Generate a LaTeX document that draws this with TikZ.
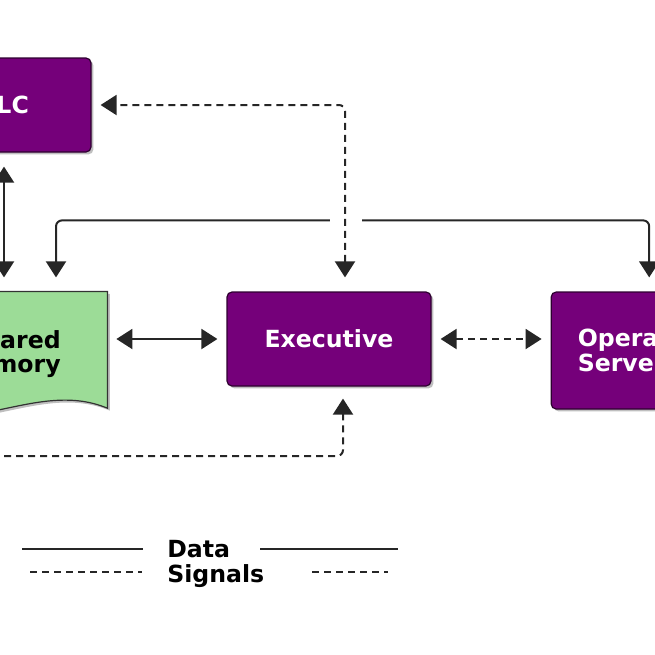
\documentclass[tikz,border=0pt]{standalone}
\usepackage{fontspec}
\setmainfont{DejaVu Sans}
\usepackage{tikz}
\usetikzlibrary{arrows.meta, positioning, shadows, backgrounds}
\usepackage{xcolor}
\definecolor{plum}{HTML}{75007A}
\definecolor{plumdark}{HTML}{2E0030}
\definecolor{mint}{HTML}{9CDC97}

\begin{document}
\begin{tikzpicture}[
      x=0.5pt, y=-0.5pt,
      node distance=59.5pt,
      >={Triangle[length=8pt, width=10pt]},
      lbl/.style={font=\fontsize{11.8}{12.2}\selectfont\bfseries},
      boxshadow/.style={drop shadow={shadow xshift=1.2pt, shadow yshift=-1.2pt,
                        opacity=0.25, fill=black}},
      pbox/.style={lbl, draw=plumdark, fill=plum, text=white, rounded corners=2.5pt,
                   line width=0.6pt, minimum height=47pt, boxshadow},
      mbox/.style={lbl, text=black, minimum width=100pt, minimum height=54pt, align=right},
      datalink/.style={line width=1pt, color=black!85, rounded corners=3pt,
                       shorten <=4.5pt, shorten >=4.5pt},
      siglink/.style={datalink, dash pattern=on 3.5pt off 2.5pt}
    ]
    \useasboundingbox (0,0) rectangle (655,655);
    \clip (0,0) rectangle (655,655);

    \node[pbox, minimum width=102pt] (exe) at (329,339) {Executive};
    \node[mbox, left=of exe.north west, anchor=north east, yshift=-4pt] (mem) {Shared\\Memory};
    \node[pbox, minimum width=86.5pt, minimum height=58.5pt, align=left,
          right=of exe.north east, anchor=north west] (ops) {Operator\\Server};
    \node[pbox, minimum width=87pt] (plc) at (4,105) {PLC};
    \coordinate (feed) at (-20,456);

    % shared memory sheet with wavy lower edge
    \begin{scope}[on background layer]
      \draw[draw=black!80, fill=mint, line width=0.6pt, boxshadow]
        ([yshift=4pt]mem.north west) -- ([yshift=4pt]mem.north east) -- (mem.south east)
        .. controls ([xshift=-33.5pt, yshift=14pt]mem.south east)
        and ([xshift=33.5pt, yshift=-14pt]mem.south west) .. (mem.south west) -- cycle;
    \end{scope}

    % data
    \draw[datalink, <->, shorten <=7pt, shorten >=7pt] (plc) -- ([yshift=4pt]plc |- mem.north);
    \draw[datalink, <->] (exe.west -| mem.east) -- (exe.west);
    \draw[datalink, <->, shorten <=11pt, shorten >=7pt] ([xshift=24.5pt]mem.north)
      |- ([xshift=5.75pt, yshift=35.5pt]ops.north) -- ([xshift=5.75pt]ops.north);
    \fill[white] (330,216) rectangle (362,226);

    % signals
    \draw[siglink, <->, shorten <=7pt] ([xshift=8pt]exe.north) |- (plc.east);
    \draw[siglink, <->] (exe.east) -- (exe.east -| ops.west);
    \draw[siglink, ->, shorten <=0pt, shorten >=6pt] (feed) -| ([xshift=7pt]exe.south);

    % key
    \node[lbl, align=left, anchor=west, inner sep=0pt] (key) at (167,564) {Data\\Signals};
    \draw[datalink, shorten <=0pt, shorten >=0pt] (22,549) -- (143,549) (260,549) -- (398,549);
    \draw[siglink, shorten <=0pt, shorten >=0pt] (30,572) -- (142,572) (312,572) -- (388,572);
\end{tikzpicture}
\end{document}
